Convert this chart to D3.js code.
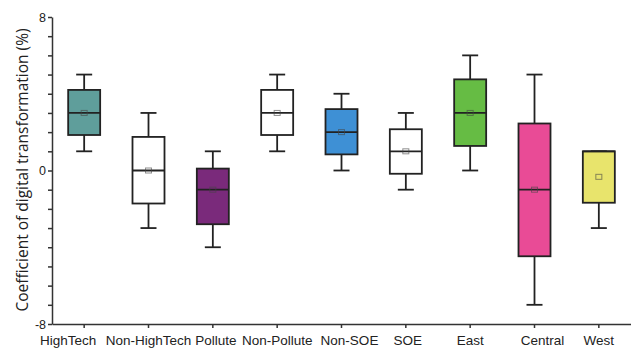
<!DOCTYPE html>
<html>
<head>
<meta charset="utf-8">
<script src="https://cdn.jsdelivr.net/npm/d3@7"></script>
<style>
  body { margin: 0; background: #fff; }
  svg { display: block; font-family: 'Open Sans', 'Noto Sans', sans-serif; }
  .ejes path, .ejes line { stroke: #333; stroke-width: 1.5; }
  .ejes text { fill: #222; }
</style>
</head>
<body>
<div id="graf"></div>
<script>
// datos
const grupos = ['HighTech', 'Non-HighTech', 'Pollute', 'Non-Pollute', 'Non-SOE', 'SOE', 'East', 'Central', 'West']
const bigoteMin = [1, -3, -4, 1, 0, -1, 0, -7, -3]
const cuartil1 = [1.85, -1.72, -2.8, 1.85, 0.84, -0.17, 1.28, -4.47, -1.68]
const mediana = [3, 0, -1, 3, 2, 1, 3, -1, 1]
const cuartil3 = [4.2, 1.75, 0.1, 4.2, 3.2, 2.15, 4.75, 2.45, 1]
const bigoteMax = [5, 3, 1, 5, 4, 3, 6, 5, 1]
const medias = [3, 0, -1, 3, 2, 1, 3, -1, -0.33]
const colores = ['#5f9e9b', '#ffffff', '#7a2a7b', '#ffffff', '#3e90d5', '#ffffff', '#66bc44', '#e94b96', '#e8e46c']
const yTicks = [-8, -7, -6, -5, -4, -3, -2, -1, 0, 1, 2, 3, 4, 5, 6, 7, 8]
const yEtiquetas = [-8, 0, 8]

const anchoTotal = 631
const altoTotal = 348

// corrimiento de etiquetas como en la figura original
const corrimiento = { 'HighTech': -16, 'Pollute': 3, 'Non-SOE': 8, 'SOE': 2, 'Central': 8 }

const svg = d3.select('#graf')
  .append('svg')
  .attr('width', anchoTotal)
  .attr('height', altoTotal)

const x = d3.scaleBand().domain(grupos).range([52, 631]).padding(0)
const y = d3.scaleLinear().domain([-8, 8]).range([324, 17])

const datos = grupos.map((g, i) => ({
  grupo: g,
  min: bigoteMin[i],
  q1: cuartil1[i],
  med: mediana[i],
  q3: cuartil3[i],
  max: bigoteMax[i],
  media: medias[i],
  color: colores[i],
}))

// ejes
svg.append('g')
  .attr('class', 'ejes')
  .attr('transform', 'translate(52, 0)')
  .call(d3.axisLeft(y).tickValues(yTicks).tickSize(4).tickSizeOuter(0)
    .tickFormat((d) => yEtiquetas.includes(d) ? d : ''))
  .selectAll('text')
  .attr('font-size', 12.5)
  .attr('dx', 1)

svg.append('g')
  .attr('class', 'ejes')
  .attr('transform', 'translate(0, 324)')
  .call(d3.axisBottom(x).tickSize(4).tickSizeOuter(0))
  .selectAll('text')
  .attr('font-size', 13.5)
  .attr('dy', '1em')
  .attr('dx', (d) => corrimiento[d] || 0)

svg.append('text')
  .attr('transform', 'translate(28, 170) rotate(-90)')
  .attr('text-anchor', 'middle')
  .attr('font-size', 15.5)
  .attr('fill', '#222')
  .text('Coefficient of digital transformation (%)')

// cajas
const cajaAncho = 32
const tapa = 16

const cajas = svg.selectAll('g.caja')
  .data(datos)
  .enter()
  .append('g')
  .attr('class', 'caja')
  .attr('transform', (d) => `translate(${x(d.grupo) + x.bandwidth() / 2}, 0)`)

cajas.append('line')
  .attr('x1', 0).attr('x2', 0)
  .attr('y1', (d) => y(d.max)).attr('y2', (d) => y(d.min))
  .attr('stroke', '#222').attr('stroke-width', 1.8)

cajas.append('line')
  .attr('x1', -tapa / 2).attr('x2', tapa / 2)
  .attr('y1', (d) => y(d.max)).attr('y2', (d) => y(d.max))
  .attr('stroke', '#222').attr('stroke-width', 1.8)

cajas.append('line')
  .attr('x1', -tapa / 2).attr('x2', tapa / 2)
  .attr('y1', (d) => y(d.min)).attr('y2', (d) => y(d.min))
  .attr('stroke', '#222').attr('stroke-width', 1.8)

cajas.append('rect')
  .attr('x', -cajaAncho / 2)
  .attr('width', cajaAncho)
  .attr('y', (d) => y(d.q3))
  .attr('height', (d) => y(d.q1) - y(d.q3))
  .attr('fill', (d) => d.color)
  .attr('stroke', '#222')
  .attr('stroke-width', 1.8)

cajas.append('line')
  .attr('x1', -cajaAncho / 2).attr('x2', cajaAncho / 2)
  .attr('y1', (d) => y(d.med)).attr('y2', (d) => y(d.med))
  .attr('stroke', '#222').attr('stroke-width', 1.8)

cajas.append('rect')
  .attr('x', -3)
  .attr('width', 6)
  .attr('y', (d) => y(d.media) - 2.5)
  .attr('height', 5)
  .attr('fill', 'none')
  .attr('stroke', '#444')
  .attr('stroke-opacity', 0.6)
  .attr('stroke-width', 1)
</script>
</body>
</html>
